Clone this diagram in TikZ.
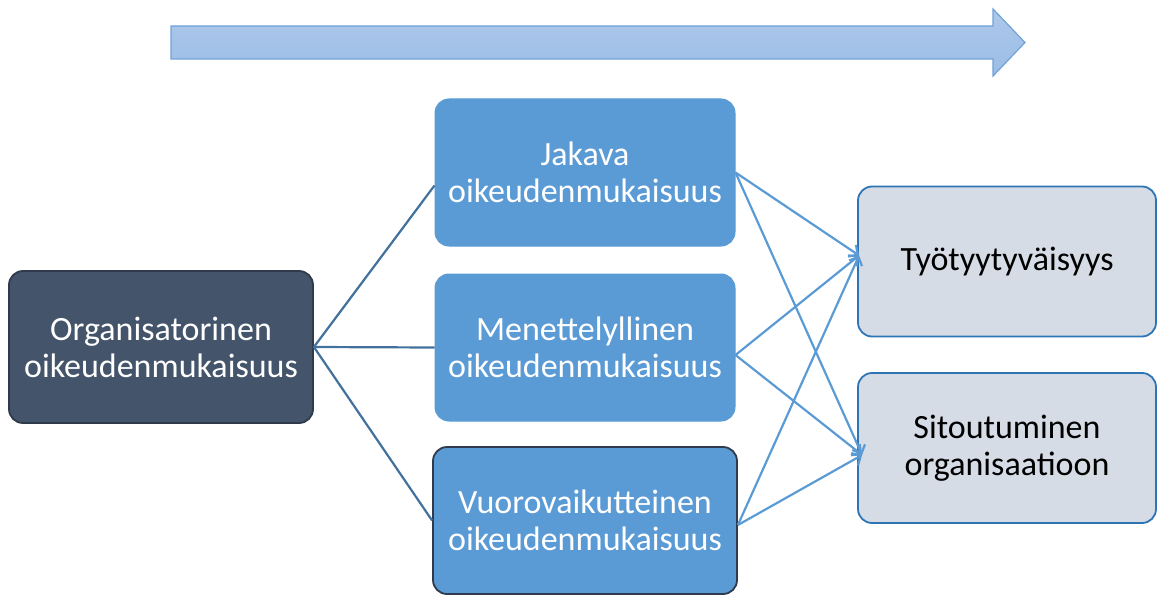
\documentclass[tikz,border=0pt]{standalone}
\usepackage{fontspec}
\setmainfont{Carlito}
\usetikzlibrary{arrows.meta}
\definecolor{darkbox}{HTML}{44546A}
\definecolor{darkedge}{HTML}{2F3B4C}
\definecolor{midblue}{HTML}{5B9BD5}
\definecolor{lightbox}{HTML}{D6DCE5}
\definecolor{lightedge}{HTML}{2E75B6}
\definecolor{leftline}{HTML}{41719C}
\definecolor{arrtop}{HTML}{ADC8EA}
\definecolor{arrbot}{HTML}{9BBDE5}
\definecolor{arredge}{HTML}{70A2D8}
\tikzset{
  box/.style={rounded corners=14pt, align=center, font=\fontsize{34}{37}\selectfont, inner sep=0pt},
  srcbox/.style={box, fill=darkbox, draw=darkedge, line width=1.8pt, text=white, minimum width=304pt, minimum height=152pt},
  midbox/.style={box, fill=midblue, draw=midblue, line width=1pt, text=white, minimum width=300pt, minimum height=147pt},
  outbox/.style={box, fill=lightbox, draw=lightedge, line width=1.8pt, text=black, minimum width=298pt, minimum height=150pt},
  inline/.style={draw=leftline, line width=2.2pt},
  outline/.style={draw=midblue, line width=2.2pt, -{Straight Barb[length=7pt,width=14pt,line width=2.2pt]}},
}
\begin{document}
\begin{tikzpicture}[x=1pt,y=-1pt]
\useasboundingbox (0,0) rectangle (1158,596);
% top arrow
\coordinate (a1) at (171,26);
\coordinate (a2) at (993,26);
\coordinate (a3) at (993,9);
\coordinate (a4) at (1025,42.5);
\coordinate (a5) at (993,76);
\coordinate (a6) at (993,59);
\coordinate (a7) at (171,59);
\path[top color=arrtop, bottom color=arrbot, draw=arredge, line width=1.2pt]
  (a1) -- (a2) -- (a3) -- (a4) -- (a5) -- (a6) -- (a7) -- cycle;
% boxes
\node[srcbox] (org) at (161,347) {Organisatorinen\\oikeudenmukaisuus};
\node[midbox] (jak) at (585,172.5) {Jakava\\oikeudenmukaisuus};
\node[midbox] (men) at (585,347.5) {Menettelyllinen\\oikeudenmukaisuus};
\node[midbox, draw=darkedge, line width=1.8pt, minimum width=304pt] (vuo) at (585,520.5) {Vuorovaikutteinen\\oikeudenmukaisuus};
\node[outbox] (tyo) at (1007,261.5) {Työtyytyväisyys};
\node[outbox] (sit) at (1007,448) {Sitoutuminen\\organisaatioon};
% left connectors
\draw[inline] (org.east) -- ([yshift=-13pt]jak.west);
\draw[inline] (org.east) -- (men.west);
\draw[inline] (org.east) -- (vuo.west);
% right connectors
\draw[outline] (jak.east) -- ([xshift=2pt,yshift=6pt]tyo.west);
\draw[outline] (jak.east) -- ([xshift=5pt,yshift=-7pt]sit.west);
\draw[outline] ([yshift=-7.5pt]men.east) -- ([xshift=2pt,yshift=6pt]tyo.west);
\draw[outline] ([yshift=-7.5pt]men.east) -- ([xshift=5pt,yshift=-7pt]sit.west);
\draw[outline] ([yshift=-4.5pt]vuo.east) -- ([xshift=2pt,yshift=6pt]tyo.west);
\draw[outline] ([yshift=-4.5pt]vuo.east) -- ([xshift=5pt,yshift=-7pt]sit.west);
\end{tikzpicture}
\end{document}
